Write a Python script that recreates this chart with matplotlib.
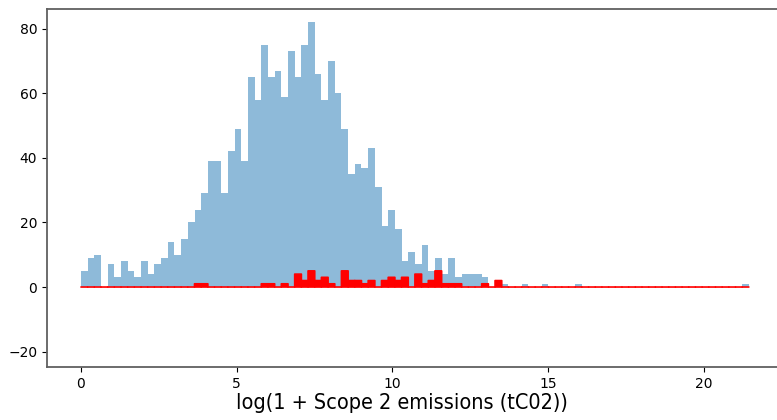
import numpy as np
import matplotlib

matplotlib.use("Agg")
import matplotlib.pyplot as plt

# 100 equal bins over the observed range of log(1 + emissions)
bin_lo, bin_hi, n_bins = 0.0, 21.44, 100

all_counts = [
    5, 9, 10, 0, 7, 3, 8, 5, 3, 8,
    4, 7, 9, 14, 10, 15, 20, 24, 29, 39,
    39, 29, 42, 49, 39, 65, 58, 75, 65, 67,
    59, 73, 65, 75, 82, 66, 58, 70, 60, 49,
    35, 38, 37, 43, 31, 19, 24, 18, 8, 11,
    7, 13, 5, 9, 4, 9, 3, 4, 4, 4,
    3, 0, 2, 1, 0, 0, 1, 0, 0, 1,
    0, 0, 0, 0, 1, 0, 0, 0, 0, 0,
    0, 0, 0, 0, 0, 0, 0, 0, 0, 0,
    0, 0, 0, 0, 0, 0, 0, 0, 0, 1,
]

# highlighted subset: bin index -> count
subset_counts = {
    17: 1, 18: 1, 27: 1, 28: 1, 30: 1, 32: 4, 33: 2, 34: 5, 35: 2, 36: 3,
    37: 1, 39: 5, 40: 2, 41: 2, 42: 1, 43: 2, 45: 2, 46: 3, 47: 2, 48: 3,
    50: 4, 51: 1, 52: 2, 53: 5, 54: 1, 55: 1, 56: 1, 60: 1, 62: 2,
}

edges = np.linspace(bin_lo, bin_hi, n_bins + 1)
width = edges[1] - edges[0]
red = np.zeros(n_bins)
for i, c in subset_counts.items():
    red[i] = c

fig = plt.figure(figsize=(7.77, 4.2), dpi=100)
ax = fig.add_axes([0.0605, 0.126, 0.947, 0.8524])

ax.bar(edges[:-1], all_counts, width=width, align="edge",
       color="tab:blue", alpha=0.5, linewidth=0)
bars = ax.bar(edges[:-1], red, width=width, align="edge",
              color="red", edgecolor="red", linewidth=1.2)
for b in bars:
    b.set_snap(False)
    b.set_joinstyle("round")
    b.set_capstyle("round")

ax.set_xlim(-1.09, 22.53)
ax.set_ylim(-24.8, 86.1)
ax.set_xticks([0, 5, 10, 15, 20])
ax.set_yticks([-20, 0, 20, 40, 60, 80])
ax.tick_params(labelsize=10)
for s in ax.spines.values():
    s.set_color("#606060")
    s.set_linewidth(1.3)

fig.text(401.5 / 777, 1 - 403 / 420, "log(1 + Scope 2 emissions (tC02))",
         ha="center", va="center", fontsize=15.5, fontstretch="condensed")

fig.savefig("out.png", dpi=100)
